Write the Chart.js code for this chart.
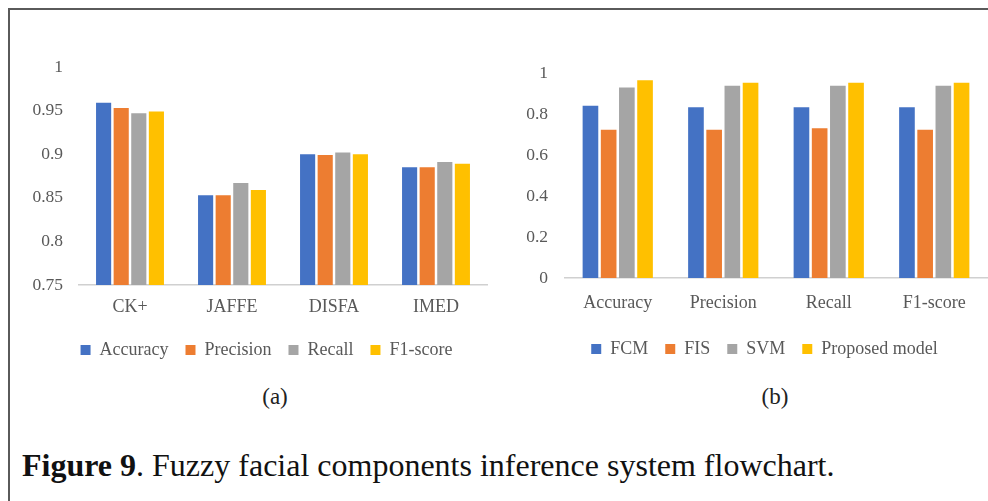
<!DOCTYPE html>
<html>
<head>
<meta charset="utf-8">
<script src="https://cdn.jsdelivr.net/npm/chart.js@4.4.1/dist/chart.umd.min.js"></script>
<style>
  html, body { margin: 0; padding: 0; background: #fff; }
  body { width: 988px; height: 501px; position: relative; overflow: hidden; font-family: "Liberation Serif", "Times New Roman", serif; }
  .frame { position: absolute; left: 8px; top: 8px; width: 990px; height: 500px; border-top: 2px solid #5a5a5a; border-left: 2px solid #5a5a5a; }
  .box { position: absolute; top: 0; width: 494px; height: 380px; }
  .sub { position: absolute; top: 384px; font-size: 23px; color: #222; transform: translateX(-50%); }
  .caption { position: absolute; left: 22px; top: 447px; font-size: 32px; color: #111; white-space: nowrap; }
</style>
</head>
<body>
<div class="frame"></div>
<div class="box" style="left:0"><canvas id="chartA"></canvas></div>
<div class="box" style="left:494px"><canvas id="chartB"></canvas></div>
<div class="sub" style="left:275px">(a)</div>
<div class="sub" style="left:775px">(b)</div>
<div class="caption"><b>Figure 9</b>. Fuzzy facial components inference system flowchart.</div>

<script>
// (a) datasets
const datasetsA = ['CK+', 'JAFFE', 'DISFA', 'IMED'];
const accuracyA = [0.959, 0.853, 0.900, 0.885];
const precisionA = [0.953, 0.853, 0.899, 0.885];
const recallA = [0.947, 0.867, 0.902, 0.891];
const f1A = [0.949, 0.859, 0.900, 0.889];

// (b) metrics per model
const metricsB = ['Accuracy', 'Precision', 'Recall', 'F1-score'];
const fcmB = [0.842, 0.835, 0.835, 0.835];
const fisB = [0.725, 0.725, 0.732, 0.725];
const svmB = [0.931, 0.940, 0.940, 0.940];
const proposedB = [0.967, 0.955, 0.955, 0.955];

const colors = ['#4472C4', '#ED7D31', '#A5A5A5', '#FFC000'];
const textGray = '#595959';
const fontFam = '"Liberation Serif", "Times New Roman", serif';

// nudge the legend sideways so it is not centred on the canvas
const legendShift = {
  id: 'legendShift',
  afterLayout(chart, args, opts) {
    const lg = chart.legend;
    if (!lg || !opts.dx) return;
    lg.left += opts.dx;
    lg.right += opts.dx;
  },
};

// build one clustered bar chart
function makeChart(id, labels, series, yMin, yMax, step, lay) {
  const ctx = document.getElementById(id).getContext('2d');
  return new Chart(ctx, {
    type: 'bar',
    data: {
      labels: labels,
      datasets: series.map((s, i) => ({
        label: s.name,
        data: s.data,
        backgroundColor: colors[i],
        categoryPercentage: 0.69,
        barPercentage: 0.86,
      })),
    },
    plugins: [legendShift],
    options: {
      responsive: true,
      maintainAspectRatio: false,
      animation: false,
      layout: { padding: lay.padding },
      plugins: {
        tooltip: { enabled: false },
        legendShift: { dx: lay.legendDx },
        legend: {
          position: 'bottom',
          labels: {
            boxWidth: 10,
            boxHeight: 10,
            padding: 17,
            color: textGray,
            font: { family: fontFam, size: 18 },
          },
        },
      },
      scales: {
        x: {
          grid: { display: false, drawTicks: false },
          border: { display: true, color: '#d0d0d0', width: 1.5 },
          ticks: { color: textGray, font: { family: fontFam, size: 18 }, padding: lay.xPad },
          afterFit: (s) => { s.height = lay.xHeight; },
        },
        y: {
          min: yMin,
          max: yMax,
          grid: { display: false, drawTicks: false },
          border: { display: false },
          ticks: {
            stepSize: step,
            color: textGray,
            font: { family: fontFam, size: 17.5 },
            padding: lay.yPad,
            callback: (v) => String(+Number(v).toFixed(2)),
          },
          afterFit: (s) => { s.width = lay.yWidth; },
        },
      },
    },
  });
}

makeChart('chartA', datasetsA, [
  { name: 'Accuracy', data: accuracyA },
  { name: 'Precision', data: precisionA },
  { name: 'Recall', data: recallA },
  { name: 'F1-score', data: f1A },
], 0.75, 1, 0.05, {
  padding: { left: 0, top: 67, right: 7, bottom: 11 },
  xHeight: 39, xPad: 11, yWidth: 79, yPad: 16, legendDx: 23,
});

makeChart('chartB', metricsB, [
  { name: 'FCM', data: fcmB },
  { name: 'FIS', data: fisB },
  { name: 'SVM', data: svmB },
  { name: 'Proposed model', data: proposedB },
], 0, 1, 0.2, {
  padding: { left: 0, top: 73.5, right: 1, bottom: 12 },
  xHeight: 45, xPad: 14.5, yWidth: 71, yPad: 17, legendDx: 24,
});
</script>
</body>
</html>
